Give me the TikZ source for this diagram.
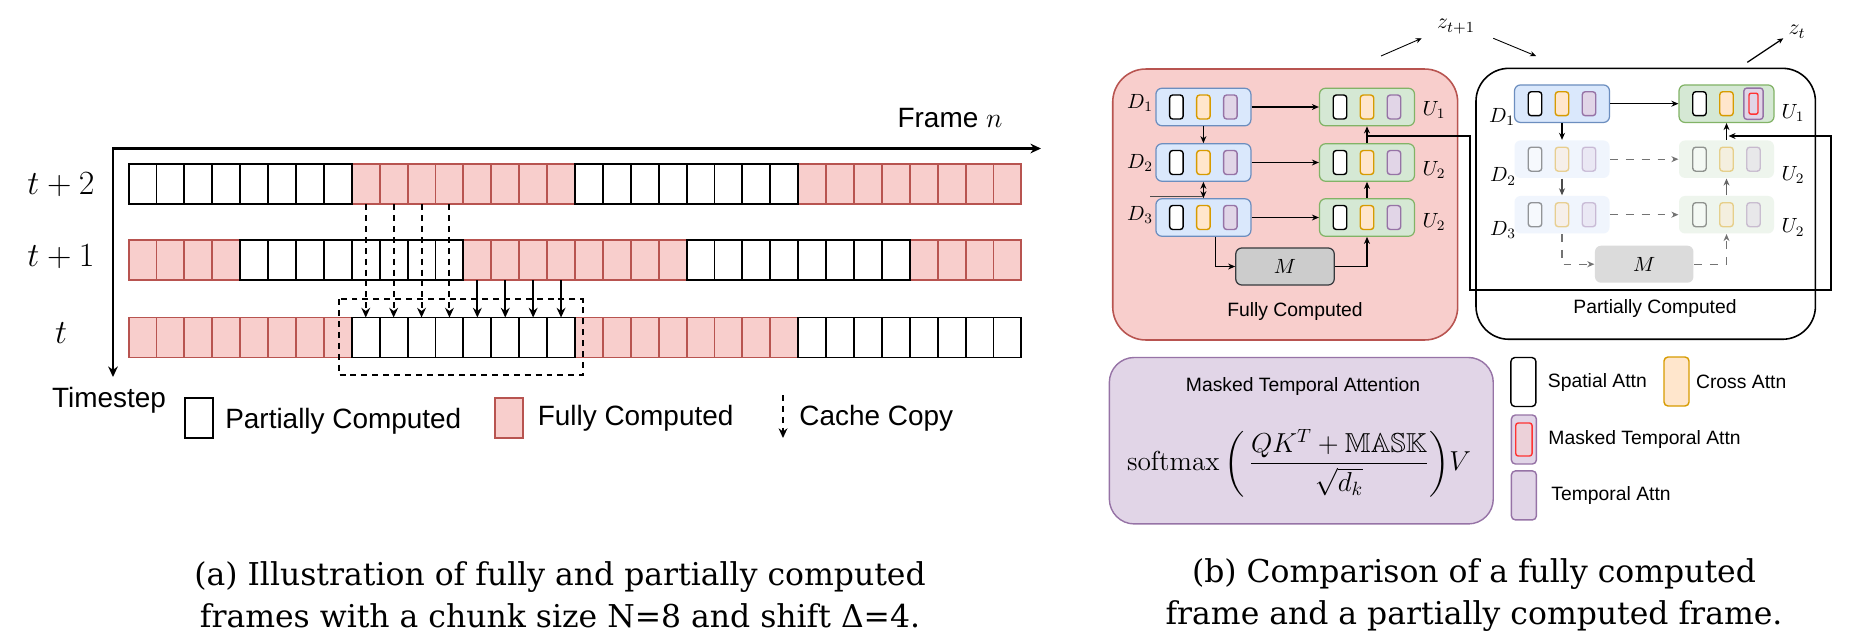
\documentclass[tikz,border=0pt]{standalone}
\usepackage{fix-cm}
\usepackage{amsmath,amssymb}
\usepackage[no-math]{fontspec}
\setmainfont{Liberation Sans}
\newfontfamily\capfont{DejaVu Serif}
\usepackage{xcolor}
\usetikzlibrary{positioning,arrows.meta}
\definecolor{fcfill}{HTML}{F8CECC}
\definecolor{fcline}{HTML}{B85450}
\definecolor{dfill}{HTML}{DAE8FC}
\definecolor{dline}{HTML}{6C8EBF}
\definecolor{ufill}{HTML}{D5E8D4}
\definecolor{uline}{HTML}{82B366}
\definecolor{ofill}{HTML}{FFE6CC}
\definecolor{oline}{HTML}{D79B00}
\definecolor{tfill}{HTML}{E1D5E7}
\definecolor{tline}{HTML}{9673A6}
\definecolor{mfill}{HTML}{CCCCCC}
\definecolor{mline}{HTML}{36393D}
\definecolor{maskred}{HTML}{FF3333}
\begin{document}
\begin{tikzpicture}[x=0.02cm,y=-0.02cm,
  fcell/.style={draw=fcline,fill=fcfill,line width=1.1pt,minimum width=0.558cm,minimum height=0.8cm,inner sep=0pt,outer sep=0pt},
  pcell/.style={draw=black,fill=white,line width=1.1pt,minimum width=0.558cm,minimum height=0.8cm,inner sep=0pt,outer sep=0pt},
  lbl/.style={font=\fontsize{15.9}{19}\selectfont,inner sep=0pt},
  rowlbl/.style={font=\fontsize{19.3}{23}\selectfont,inner sep=0pt},
  cpy/.style={line width=1.1pt,-{Stealth[length=5.5pt,width=5pt]}},
  ctxt/.style={font=\fontsize{11}{13}\selectfont,inner sep=0pt},
  mlbl/.style={font=\fontsize{11.7}{14}\selectfont,inner sep=0pt},
  dblk/.style={draw=dline,fill=dfill,rounded corners=0.12cm,minimum width=1.9cm,minimum height=0.75cm,line width=0.7pt},
  ublk/.style={draw=uline,fill=ufill,rounded corners=0.12cm,minimum width=1.9cm,minimum height=0.75cm,line width=0.7pt},
  dblkf/.style={dblk,draw=none},
  ublkf/.style={ublk,draw=none},
  spat/.style={draw=black,fill=white,rounded corners=0.06cm,minimum width=0.27cm,minimum height=0.48cm,line width=0.8pt,inner sep=0pt},
  cros/.style={spat,draw=oline,fill=ofill},
  temp/.style={spat,draw=tline,fill=tfill},
  mblk/.style={draw=mline,fill=mfill,rounded corners=0.12cm,minimum width=1.97cm,minimum height=0.74cm,line width=0.7pt,font=\fontsize{11.7}{14}\selectfont},
  arr/.style={line width=0.6pt,-{Stealth[length=4pt,width=3.4pt]}},
  sarr/.style={line width=0.5pt,-{Stealth[length=3.4pt,width=3pt]}},
  legbox/.style={rounded corners=0.08cm,minimum width=0.5cm,minimum height=0.98cm,inner sep=0pt,line width=0.8pt},
  captxt/.style={font=\capfont\fontsize{17.9}{23.7}\selectfont,align=center,inner sep=0pt}]
\useasboundingbox (0,0) rectangle (1860,643);

\foreach \r/\y/\a/\b/\st in {2/184.2/8/15/fcell, 2/184.2/24/31/fcell, 1/260/0/3/fcell, 1/260/12/19/fcell, 1/260/28/31/fcell, 0/337.5/0/7/fcell, 0/337.5/16/23/fcell, 2/184.2/0/7/pcell, 2/184.2/16/23/pcell, 1/260/4/11/pcell, 1/260/20/27/pcell, 0/337.5/8/15/pcell, 0/337.5/24/31/pcell}
  \foreach \i in {\a,...,\b}
    \node[\st] (c\r-\i) at ({142.55+27.9*\i},\y) {};

\coordinate (orig) at (113,148.5);
\draw[line width=1.2pt,{Stealth[length=6pt,width=5.5pt]}-{Stealth[length=6pt,width=5.5pt]}] (113,377) -- (orig) -- (1041,148.5);
\node[lbl] (framen) at (950,118) {Frame $n$};
\node[lbl] (tstep) at (109,400) {Timestep};
\node[rowlbl] (r2) at (61,185) {$t+2$};
\node[rowlbl] (r1) at (61,257) {$t+1$};
\node[rowlbl] (r0) at (61,333) {$t$};

\draw[line width=1.1pt,dash pattern=on 3.4pt off 2.8pt] (339,299.3) rectangle (583,375);
\foreach \i in {8,...,11}
  \draw[cpy,dash pattern=on 3.4pt off 2.8pt] (c2-\i.south) -- (c0-\i.north);
\foreach \i in {12,...,15}
  \draw[cpy] (c1-\i.south) -- (c0-\i.north);

\node[pcell] (legpc) at (199,418) {};
\node[lbl,right=0.24cm of legpc,yshift=-0.07cm] (legpct) {Partially Computed};
\node[fcell] (legfc) at (509,418) {};
\node[lbl,right=0.29cm of legfc] (legfct) {Fully Computed};
\coordinate (cca) at (783,395);
\coordinate (ccb) at (783,438);
\draw[cpy,dash pattern=on 3.4pt off 2.8pt] (cca) -- (ccb);
\node[lbl,anchor=west] (cct) at (799,418) {Cache Copy};

\node[draw=fcline,fill=fcfill,rounded corners=0.66cm,line width=0.9pt,minimum width=6.9cm,minimum height=5.42cm] (fcbox) at (1285.2,204.5) {};
\node[draw=black,fill=white,rounded corners=0.66cm,line width=0.9pt,minimum width=6.79cm,minimum height=5.42cm] (pcbox) at (1645.7,203.8) {};
\node[ctxt] (fctxt) at (1295,311.7) {Fully Computed};
\node[ctxt] (pctxt) at (1655,308.3) {Partially Computed};

\foreach \nm/\x/\y/\st/\op in {fcD1/1203.4/107/dblk/1, fcD2/1203.4/162.5/dblk/1, fcD3/1203.4/217.5/dblk/1, fcU1/1367/107/ublk/1, fcU2/1367/162.5/ublk/1, fcU3/1367/217.5/ublk/1, pcD1/1562/103.7/dblk/1, pcD2/1562/159.2/dblkf/0.4, pcD3/1562/214.7/dblkf/0.4, pcU1/1726.5/103.7/ublk/1, pcU2/1726.5/159.2/ublkf/0.4, pcU3/1726.5/214.7/ublkf/0.4}{
  \begin{scope}[opacity=\op]
    \node[\st] (\nm) at (\x,\y) {};
    \node[spat] (\nm-s) at ([shift={(-27,0)}]\nm.center) {};
    \node[cros] (\nm-c) at (\nm.center) {};
    \node[temp] (\nm-t) at ([shift={(27,0)}]\nm.center) {};
  \end{scope}
}
\node[temp,minimum width=0.386cm,minimum height=0.626cm] (pcU1-m) at (pcU1-t) {};
\node[draw=maskred,fill=tfill,rounded corners=0.04cm,line width=0.8pt,minimum width=0.18cm,minimum height=0.42cm,inner sep=0pt] (pcU1-r) at (pcU1-t) {};

\node[mblk] (fcM) at (1285,266.5) {$M$};
\node[mblk,draw=none,fill=black!14] (pcM) at (1644.2,264.2) {$M$};

\node[mlbl] (fcD1l) at (1140,103) {$D_1$};
\node[mlbl] (fcD2l) at (1140,163) {$D_2$};
\node[mlbl] (fcD3l) at (1140,215) {$D_3$};
\node[mlbl] (fcU1l) at (1434,110) {$U_1$};
\node[mlbl] (fcU2l) at (1434,170) {$U_2$};
\node[mlbl] (fcU3l) at (1434,222) {$U_2$};
\node[mlbl] (pcD1l) at (1502,117) {$D_1$};
\node[mlbl] (pcD2l) at (1503,176.5) {$D_2$};
\node[mlbl] (pcD3l) at (1503,230) {$D_3$};
\node[mlbl] (pcU1l) at (1793,113) {$U_1$};
\node[mlbl] (pcU2l) at (1793,175) {$U_2$};
\node[mlbl] (pcU3l) at (1793,227.5) {$U_2$};

\draw[arr] (fcD1) -- (fcU1);
\draw[arr] (fcD2) -- (fcU2);
\draw[arr] (fcD3) -- (fcU3);
\draw[arr] (fcD1) -- (fcD2);
\draw[arr,{Stealth[length=4pt,width=3.4pt]}-{Stealth[length=4pt,width=3.4pt]}] (fcD2) -- (fcD3);
\coordinate (stray) at (1150,196.7);
\draw[line width=0.4pt,black!70] (stray) -- (stray -| fcD3);
\draw[arr] ([shift={(12.3,0)}]fcD3.south) |- (fcM.west);
\draw[arr] (fcM.east) -| (fcU3.south);
\draw[arr] (fcU3) -- (fcU2);
\draw[arr] (fcU2) -- (fcU1);

\draw[arr,line width=0.8pt] (pcD1) -- (pcU1);
\draw[arr] (pcD1) -- (pcD2);
\draw[arr,black!70] (pcD2) -- (pcD3);
\draw[arr,black!55,dash pattern=on 4.5pt off 4.5pt] (pcD2) -- (pcU2);
\draw[arr,black!55,dash pattern=on 4.5pt off 4.5pt] (pcD3) -- (pcU3);
\draw[arr,black!55,dash pattern=on 4.5pt off 4.5pt] (pcD3.south) |- (pcM.west);
\draw[arr,black!55,dash pattern=on 4.5pt off 4.5pt] (pcM.east) -| (pcU3.south);
\draw[arr,black!60] (pcU3) -- (pcU2);
\draw[arr,line width=0.8pt] (pcU2) -- (pcU1);

\coordinate (fcjoin) at (1367,136);
\coordinate (pcjoin) at (1728.5,136);
\draw[arr] (fcjoin) -| (1470,290) -| (1831,136) -- (pcjoin);

\node[mlbl,font=\fontsize{12.5}{15}\selectfont] (zt1) at (1456,26.7) {$z_{t+1}$};
\node[mlbl,font=\fontsize{12.5}{15}\selectfont] (zt) at (1797,31.7) {$z_t$};
\coordinate (za) at (1381,56);
\coordinate (zb) at (1421.7,38.3);
\coordinate (zc) at (1493.3,38.3);
\coordinate (zd) at (1536,56);
\coordinate (ze) at (1747.3,62.3);
\coordinate (zf) at (1783.3,38.3);
\draw[sarr] (za) -- (zb);
\draw[sarr] (zc) -- (zd);
\draw[sarr,line width=0.7pt] (ze) -- (zf);

\node[draw=tline,fill=tfill,rounded corners=0.5cm,line width=0.8pt,minimum width=7.68cm,minimum height=3.33cm] (mtabox) at (1301.3,440.7) {};
\node[ctxt] (mtat) at (1303,386.7) {Masked Temporal Attention};
\node[font=\fontsize{15.6}{19}\selectfont,inner sep=0pt] (mtaf) at (1299,463) {$\mathrm{softmax}\left(\,\dfrac{QK^T+\mathbb{MASK}}{\sqrt{d_k}}\right)\!V$};

\node[legbox,draw=black,fill=white] (lgs) at (1523.4,382) {};
\node[ctxt,right=0.22cm of lgs] (lgst) {Spatial Attn};
\node[legbox,draw=oline,fill=ofill] (lgc) at (1676.5,381.5) {};
\node[ctxt,right=0.12cm of lgc] (lgct) {Cross Attn};
\node[legbox,draw=tline,fill=tfill] (lgm) at (1523.9,439.5) {};
\node[draw=maskred,fill=fcfill!50!tfill,rounded corners=0.05cm,line width=0.8pt,minimum width=0.326cm,minimum height=0.66cm,inner sep=0pt] (lgmr) at (lgm) {};
\node[ctxt,right=0.22cm of lgm] (lgmt) {Masked Temporal Attn};
\node[legbox,draw=tline,fill=tfill] (lgt) at (1523.9,495.4) {};
\node[ctxt,right=0.28cm of lgt] (lgtt) {Temporal Attn};

\node[captxt] (capa) at (560,595) {(a) Illustration of fully and partially computed\\frames with a chunk size N=8 and shift Δ=4.};
\node[captxt] (capb) at (1474,595) {(b) Comparison of a fully computed\\frame and a partially computed frame.};
\end{tikzpicture}
\end{document}
